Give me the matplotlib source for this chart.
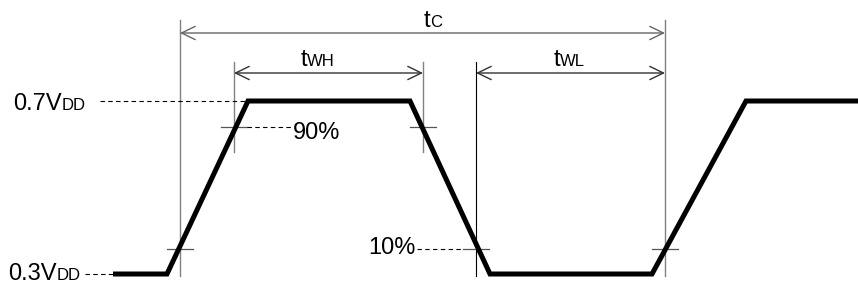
import matplotlib
matplotlib.use("Agg")
import matplotlib.pyplot as plt

plt.rcParams['font.family'] = ['Liberation Sans', 'DejaVu Sans']

# waveform (pixel-like diagram units)
wave_x = [113, 167, 248, 410, 490, 652, 746, 858]
wave_y = [274, 274, 101, 101, 274, 274, 101, 101]
level_high = 101
level_low = 274
level_90 = 127
level_10 = 249

# timing marker positions
x_tc = [180, 665]
x_twh = [234, 423]
x_twl = [476, 665]
y_tc = 33
y_tw = 73

fig = plt.figure(figsize=(8.58, 2.86), dpi=100)
ax = fig.add_axes([0, 0, 1, 1])
ax.set_xlim(0, 858)
ax.set_ylim(286, 0)
ax.axis('off')

gray = '#808080'
# vertical reference lines
ax.plot([x_tc[0], x_tc[0]], [20, 276], color=gray, lw=1)
ax.plot([x_tc[1], x_tc[1]], [20, 276], color=gray, lw=1)
ax.plot([x_twh[0], x_twh[0]], [62, 152], color=gray, lw=1)
ax.plot([x_twh[1], x_twh[1]], [62, 152], color=gray, lw=1)
ax.plot([x_twl[0], x_twl[0]], [62, 276], color='black', lw=0.8)

# crosshair ticks
for xc, yc in [(x_twh[0], level_90), (x_twh[1], level_90),
               (x_tc[0], level_10), (x_twl[0], level_10), (x_tc[1], level_10)]:
    ax.plot([xc - 13, xc + 13], [yc, yc], color='#555555', lw=0.9)

# dashed leader lines
ax.plot([100, 248], [level_high, level_high], color='black', lw=0.8, ls=(0, (4, 3)))
ax.plot([85, 113], [level_low, level_low], color='black', lw=0.8, ls=(0, (4, 3)))
ax.plot([247, 291], [level_90, level_90], color='black', lw=0.8, ls=(0, (4, 3)))
ax.plot([417, 463], [level_10, level_10], color='black', lw=0.8, ls=(0, (4, 3)))

# dimension arrows
def dim(x0, x1, y, color):
    ax.annotate('', xy=(x0, y), xytext=(x1, y),
                arrowprops=dict(arrowstyle='<->,head_length=0.7,head_width=0.34',
                                color=color, lw=1.0, shrinkA=0, shrinkB=0,
                                mutation_scale=14))
dim(x_tc[0], x_tc[1], y_tc, '#666666')
dim(x_twh[0], x_twh[1], y_tw, '#333333')
dim(x_twl[0], x_twl[1], y_tw, '#333333')

# waveform
ax.plot(wave_x, wave_y, color='black', lw=3.6, solid_joinstyle='miter',
        solid_capstyle='butt')

FS = 17
SFS = 12

def label(x, y, main, sub):
    ax.text(x, y, main, fontsize=FS, ha='right', va='baseline')
    ax.text(x, y, sub, fontsize=SFS, ha='left', va='baseline')

label(62, 110, '0.7V', 'DD')
label(57, 280, '0.3V', 'DD')
label(430, 27, 't', 'C')
label(307, 66, 't', 'WH')
label(560, 66, 't', 'WL')
ax.text(293, 139, '90%', fontsize=FS, ha='left', va='baseline')
ax.text(416, 254, '10%', fontsize=FS, ha='right', va='baseline')

fig.savefig('out.png', dpi=100)
